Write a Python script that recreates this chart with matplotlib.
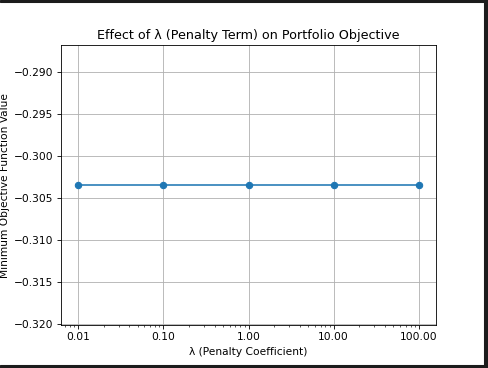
import matplotlib
matplotlib.use("Agg")
import matplotlib.pyplot as plt
from matplotlib.patches import Rectangle
from matplotlib.ticker import FormatStrFormatter

lambdas = [0.01, 0.1, 1.0, 10.0, 100.0]
objective = [-0.30345, -0.30345, -0.30345, -0.30345, -0.30345]

W, H, DPI = 488, 368, 76.25
fig = plt.figure(figsize=(W / DPI, H / DPI), dpi=DPI)
ax = fig.add_axes([61 / W, 1 - 325 / H, (436 - 61) / W, (325 - 45) / H])

ax.plot(lambdas, objective, marker="o")
ax.set_xscale("log")
ax.xaxis.set_major_formatter(FormatStrFormatter("%.2f"))
ax.set_xlabel("λ (Penalty Coefficient)")
ax.set_ylabel("Minimum Objective Function Value")
ax.set_title("Effect of λ (Penalty Term) on Portfolio Objective")
ax.grid(True)

# dark screenshot edges
dark = "#1c1c1c"
for x0, y0, w, h in [(0, H - 2, W, 2), (W - 4, 0, 4, H), (0, 0, W, 3)]:
    fig.patches.append(Rectangle((x0 / W, y0 / H), w / W, h / H,
                                 transform=fig.transFigure, color=dark, zorder=10))

fig.savefig("out.png", dpi=DPI)
